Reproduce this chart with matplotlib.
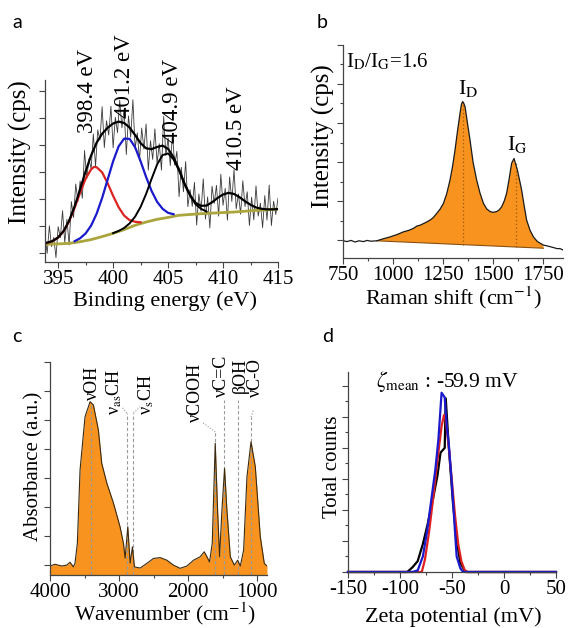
import numpy as np
import matplotlib
matplotlib.use("Agg")
import matplotlib.pyplot as plt
from matplotlib.ticker import MultipleLocator

plt.rcParams['font.family'] = ['Liberation Serif', 'DejaVu Serif']
plt.rcParams['mathtext.fontset'] = 'stix'
plt.rcParams['axes.unicode_minus'] = False

ORANGE = '#f7931e'
AXCOL = '#444444'

# ---------------- a: XPS N1s ----------------
# raw spectrum, 0.2 eV channel steps from 393.8 to 415.0 eV
xps_energy = np.linspace(393.8, 415.0, 107)
xps_counts = [0.66, -0.01, 1.01, 0.24, 0.58, -0.17, 0.98, 0.57, 1.57, 0.39,
              1.25, 0.30, 1.91, 1.32, 2.56, 1.91, 2.67, 2.03, 3.80, 2.75,
              3.49, 3.12, 4.41, 3.20, 4.56, 4.19, 5.42, 3.91, 4.90, 4.37,
              5.44, 3.90, 5.03, 4.46, 5.66, 4.64, 5.32, 3.65, 5.08, 4.29,
              5.68, 3.87, 4.45, 3.43, 4.63, 3.85, 4.78, 3.07, 4.16, 3.47,
              4.60, 3.33, 4.05, 3.07, 5.06, 3.61, 4.26, 3.24, 4.41, 3.26,
              3.77, 2.09, 3.18, 2.27, 3.39, 1.72, 2.35, 1.73, 2.62, 1.04,
              2.19, 1.55, 2.75, 1.26, 2.08, 0.93, 2.48, 1.84, 2.51, 1.37,
              2.92, 1.77, 2.40, 1.22, 2.82, 1.91, 3.09, 1.64, 2.19, 1.44,
              2.68, 1.72, 2.27, 1.02, 2.07, 1.23, 2.49, 1.37, 1.85, 0.94,
              2.13, 1.22, 2.52, 1.02, 1.92, 1.43, 2.03]

bg_energy = [393.8, 395, 396, 397, 398, 399, 400, 401, 402, 403, 404, 405,
             406, 407, 408, 409, 410, 411, 412, 413, 414, 415]
bg_counts = [0.33, 0.34, 0.36, 0.42, 0.50, 0.61, 0.73, 0.87, 1.03, 1.15, 1.25,
             1.32, 1.40, 1.43, 1.46, 1.48, 1.50, 1.52, 1.55, 1.58, 1.60, 1.63]

red_energy = [393.8, 394.5, 395.0, 395.5, 396.0, 396.5, 397.0, 397.5, 398.0,
              398.25, 398.5, 399.0, 399.5, 400.0, 400.5, 401.0, 401.5, 402.0, 402.5]
red_counts = [0.36, 0.44, 0.58, 0.81, 1.18, 1.68, 2.24, 2.76, 3.10,
              3.19, 3.18, 2.99, 2.59, 2.12, 1.70, 1.39, 1.22, 1.16, 1.14]

blue_energy = [396.5, 397.0, 397.5, 398.0, 398.5, 399.0, 399.5, 400.0, 400.5,
               401.0, 401.5, 402.0, 402.5, 403.0, 403.5, 404.0, 404.5, 405.0, 405.5]
blue_counts = [0.44, 0.55, 0.73, 1.02, 1.46, 2.04, 2.72, 3.40, 3.95,
               4.24, 4.23, 3.92, 3.40, 2.82, 2.30, 1.90, 1.64, 1.49, 1.44]

blk_energy = [400.0, 400.5, 401.0, 401.5, 402.0, 402.5, 403.0, 403.5, 404.0,
              404.5, 405.0, 405.5, 406.0, 406.5, 407.0, 407.5, 408.0, 408.5]
blk_counts = [0.74, 0.82, 0.93, 1.10, 1.35, 1.71, 2.19, 2.75, 3.28,
              3.63, 3.69, 3.47, 3.06, 2.55, 2.13, 1.81, 1.64, 1.54]

env_energy = [393.8, 394.5, 395.0, 395.5, 396.0, 396.5, 397.0, 397.5, 398.0,
              398.5, 399.0, 399.5, 400.0, 400.5, 401.0, 401.5, 402.0, 402.5,
              403.0, 403.5, 404.0, 404.5, 405.0, 405.5, 406.0, 406.5, 407.0,
              407.5, 408.0, 408.5, 409.0, 409.5, 410.0, 410.5, 411.0, 411.5,
              412.0, 412.5, 413.0, 413.5, 414.0, 414.5, 415.0]
env_counts = [0.36, 0.45, 0.58, 0.82, 1.20, 1.73, 2.37, 3.03, 3.62,
              4.09, 4.42, 4.64, 4.80, 4.87, 4.82, 4.65, 4.37, 4.07,
              3.88, 3.85, 3.93, 3.98, 3.86, 3.55, 3.09, 2.57, 2.15,
              1.86, 1.75, 1.76, 1.88, 2.04, 2.17, 2.23, 2.19, 2.07,
              1.92, 1.79, 1.69, 1.64, 1.62, 1.62, 1.63]

xps_peaks = ['398.4 eV', '401.2 eV', '404.9 eV', '410.5 eV']

# ---------------- b: Raman ----------------
raman_shift = [752, 770, 790, 810, 830, 852, 870, 890, 918, 950, 985, 1020, 1052,
               1080, 1102, 1120, 1135, 1160, 1185, 1200, 1218, 1235, 1252, 1268,
               1285, 1298, 1310, 1322, 1335, 1342, 1348, 1354, 1360, 1372, 1385,
               1400, 1418, 1435, 1452, 1468, 1485, 1500, 1518, 1530, 1543, 1556,
               1568, 1580, 1593, 1605, 1613, 1622, 1632, 1643, 1655, 1668, 1685,
               1702, 1720, 1735, 1752, 1770, 1785, 1800, 1820, 1835, 1852]
raman_int = [-0.02, -0.04, -0.01, -0.05, -0.02, -0.04, -0.01, -0.03, -0.02, 0.03,
             0.08, 0.14, 0.21, 0.25, 0.30, 0.36, 0.38, 0.44, 0.51, 0.57, 0.68,
             0.79, 0.94, 1.18, 1.54, 1.90, 2.31, 2.78, 3.25, 3.48, 3.55, 3.50,
             3.42, 3.00, 2.56, 2.00, 1.54, 1.20, 0.94, 0.80, 0.73, 0.71, 0.73,
             0.77, 0.85, 1.00, 1.20, 1.55, 1.97, 2.09, 1.95, 1.79, 1.55, 1.28,
             0.90, 0.51, 0.25, 0.08, -0.03, -0.08, -0.13, -0.15, -0.17, -0.19,
             -0.22, -0.22, -0.26]
raman_base_x = [918, 1752]
raman_base_y = [-0.02, -0.21]
raman_bands = [1348, 1613]
raman_band_top = [3.55, 2.02]

# ---------------- c: FTIR ----------------
ir_wn = [4000, 3928, 3830, 3758, 3710, 3662, 3638, 3604, 3565, 3493, 3420, 3372,
         3300, 3251, 3178, 3082, 2986, 2937, 2913, 2874, 2840, 2807, 2778, 2696,
         2599, 2503, 2406, 2309, 2213, 2116, 2019, 1923, 1826, 1768, 1729, 1691,
         1652, 1609, 1575, 1546, 1512, 1474, 1440, 1391, 1333, 1285, 1246, 1198,
         1150, 1091, 1029, 957, 899, 860]
ir_abs = [-0.03, 0.03, -0.03, 0.00, 0.10, -0.06, 0.07, 0.75, 3.28, 5.11, 5.63, 5.52,
          4.66, 3.51, 2.83, 2.14, 1.32, 0.75, 0.24, 1.32, 0.07, 0.63, -0.06, -0.10,
          0.06, 0.23, 0.26, 0.17, 0.00, -0.11, -0.03, 0.17, 0.29, 0.46, 0.29, 0.11,
          0.75, 4.20, 1.90, 0.29, 1.90, 3.33, 1.90, 0.29, 0.00, 0.17, -0.03, 0.52,
          3.04, 4.25, 3.39, 0.98, 0.06, -0.03]
ir_bands = [3410, 2889, 2793, 1609, 1478, 1275, 1091]
ir_labels = [r'νOH', r'ν$_{\rm as}$CH', r'ν$_{\rm s}$CH', r'νCOOH',
             r'νC=C', r'βOH', r'νC-O']

# ---------------- d: zeta potential ----------------
zeta_k = [-150, -93, -88, -83, -78, -73, -68, -64, -61, -57, -56, -53, -49, -45,
          -42, -38, -35, 50]
cnt_k = [0, 0, 0.15, 0.35, 0.9, 1.6, 2.4, 3.1, 3.85, 4.0, 5.6, 4.0, 2.2, 0.9,
         0.3, 0.05, 0, 0]
zeta_r = [-150, -79, -76, -72, -68, -64, -60, -57.7, -56, -53, -50, -47, -44,
          -41, -38, -36, 50]
cnt_r = [0, 0, 0.4, 1.3, 2.4, 3.6, 4.7, 5.06, 4.9, 4.0, 2.9, 1.8, 0.9, 0.35,
         0.08, 0, 0]
zeta_b = [-150, -88, -83, -78, -74, -70, -66, -63, -60, -57, -55, -53, -50,
          -47.5, -45.5, -42, -40, -38, 50]
cnt_b = [0, 0, 0.05, 0.5, 1.3, 2.3, 3.3, 4.3, 5.78, 5.63, 4.7, 4.1, 2.8, 1.5,
         0.5, 0.12, 0.03, 0, 0]
zeta_mean = -59.9


def style_axes(ax):
    for s in ['top', 'right']:
        ax.spines[s].set_visible(False)
    for s in ['left', 'bottom']:
        ax.spines[s].set_color(AXCOL)
        ax.spines[s].set_linewidth(0.9)
    ax.tick_params(axis='both', which='both', colors=AXCOL, labelcolor='black',
                   direction='out', width=0.8)
    ax.tick_params(axis='both', which='major', length=4, labelsize=15, pad=1.5)
    ax.tick_params(axis='both', which='minor', length=2.5)
    ax.tick_params(axis='y', labelleft=False)


fig = plt.figure(figsize=(5.7, 6.28), dpi=100)

# a
ax = fig.add_axes([0.0789, 0.5828, 0.4088, 0.2898])
ax.plot(xps_energy, xps_counts, color='#3a3a3a', lw=0.6)
ax.plot(bg_energy, bg_counts, color='#aaa53c', lw=2.0)
ax.plot(red_energy, red_counts, color='#dd2222', lw=1.6)
ax.plot(blue_energy, blue_counts, color='#1a1acc', lw=1.6)
ax.plot(blk_energy, blk_counts, color='black', lw=1.4)
ax.plot(env_energy, env_counts, color='black', lw=1.6)
ax.set_xlim(393.8, 415)
ax.set_ylim(-0.33, 6.41)
ax.xaxis.set_major_locator(MultipleLocator(5))
ax.xaxis.set_minor_locator(MultipleLocator(2.5))
ax.yaxis.set_major_locator(MultipleLocator(1))
style_axes(ax)
for lab, (x, y) in zip(xps_peaks, [(397.64, 4.44), (401.0, 5.0),
                                   (405.36, 4.07), (411.18, 3.07)]):
    ax.text(x, y, lab, rotation=90, ha='center', va='bottom', fontsize=16.5,
            clip_on=False)
ax.set_xlabel('Binding energy (eV)', fontsize=16)
ax.set_ylabel('Intensity (cps)', fontsize=18)
ax.xaxis.set_label_coords(0.515, -0.16)
ax.yaxis.set_label_coords(-0.056, 0.604)

# b
ax = fig.add_axes([0.6018, 0.5892, 0.386, 0.3392])
rs = np.array(raman_shift)
ri = np.array(raman_int)
m = (rs >= raman_base_x[0]) & (rs <= raman_base_x[1])
ax.fill(np.concatenate([rs[m], raman_base_x[::-1]]),
        np.concatenate([ri[m], raman_base_y[::-1]]),
        color=ORANGE, lw=0)
ax.plot(raman_base_x, raman_base_y, color='#8a5010', lw=0.8)
ax.vlines(raman_bands, [-0.12, -0.17], raman_band_top, colors='#9a5a10',
          linestyles=(0, (1, 2)), lw=0.9)
ax.plot(raman_shift, raman_int, color='#1a1a1a', lw=0.9)
ax.set_xlim(750, 1850)
ax.set_ylim(-0.46, 5.0)
ax.xaxis.set_major_locator(MultipleLocator(250))
ax.xaxis.set_minor_locator(MultipleLocator(125))
ax.yaxis.set_major_locator(MultipleLocator(1))
ax.yaxis.set_minor_locator(MultipleLocator(0.5))
style_axes(ax)
ax.text(765, 4.42, r'I$_{\rm D}$/I$_{\rm G}$=1.6', fontsize=15, va='baseline')
ax.text(1325, 3.75, r'I$_{\rm D}$', fontsize=16, va='baseline')
ax.text(1570, 2.31, r'I$_{\rm G}$', fontsize=16, va='baseline')
ax.set_xlabel('Raman shift (cm$^{-1}$)', fontsize=16)
ax.set_ylabel('Intensity (cps)', fontsize=18)
ax.xaxis.set_label_coords(0.5, -0.125)
ax.yaxis.set_label_coords(-0.036, 0.573)

# c
ax = fig.add_axes([0.0877, 0.0844, 0.3807, 0.3392])
ax.set_xlim(4000, 860)
ax.set_ylim(-0.34, 7.0)
ax.fill_between(ir_wn, ir_abs, ax.get_ylim()[0], color=ORANGE, lw=0)
tops = [5.63, 5.24, 5.24, 4.59, 5.69, 5.69, 5.1]
ax.vlines(ir_bands, ax.get_ylim()[0], tops, colors='#9a9a9a',
          linestyles=(0, (3, 2)), lw=0.8)
for (x0, y0), (x1, y1) in [((2889, 5.24), (2960, 5.45)),
                           ((2793, 5.24), (2696, 5.45)),
                           ((1609, 4.59), (1783, 4.90)),
                           ((1091, 5.10), (1058, 5.34))]:
    ax.plot([x0, x1], [y0, y1], color='#9a9a9a', ls=(0, (1, 1.5)), lw=0.8)
ax.plot(ir_wn, ir_abs, color='#3a2a10', lw=0.8)
for lab, (x, y) in zip(ir_labels, [(3391, 5.69), (3072, 5.17), (2609, 5.17),
                                   (1899, 4.93), (1520, 5.79), (1250, 5.93),
                                   (1020, 5.79)]):
    ax.text(x, y, lab, rotation=90, ha='center', va='bottom', fontsize=13,
            clip_on=False)
ax.xaxis.set_major_locator(MultipleLocator(1000))
ax.xaxis.set_minor_locator(MultipleLocator(500))
ax.yaxis.set_major_locator(MultipleLocator(1))
style_axes(ax)
ax.set_xlabel('Wavenumber (cm$^{-1}$)', fontsize=15.5)
ax.set_ylabel('Absorbance (a.u.)', fontsize=15)
ax.xaxis.set_label_coords(0.53, -0.118)
ax.yaxis.set_label_coords(-0.032, 0.512)

# d
ax = fig.add_axes([0.6105, 0.0892, 0.3649, 0.3185])
ax.plot(zeta_k, cnt_k, color='black', lw=1.6, clip_on=False)
ax.plot(zeta_r, cnt_r, color='#e02020', lw=1.6, clip_on=False)
ax.plot(zeta_b, cnt_b, color='#1a1acc', lw=1.6, clip_on=False)
ax.set_xlim(-150, 50)
ax.set_ylim(0, 6.45)
ax.xaxis.set_major_locator(MultipleLocator(50))
ax.xaxis.set_minor_locator(MultipleLocator(25))
ax.yaxis.set_major_locator(MultipleLocator(1))
ax.yaxis.set_minor_locator(MultipleLocator(0.5))
style_axes(ax)
ax.text(-123, 5.97, r'$\zeta_{\rm mean}$ : %.1f mV' % zeta_mean, fontsize=15.5,
        va='baseline')
ax.set_xlabel('Zeta potential (mV)', fontsize=16)
ax.set_ylabel('Total counts', fontsize=15)
ax.xaxis.set_label_coords(0.505, -0.175)
ax.yaxis.set_label_coords(-0.03, 0.525)

# panel letters
for letter, (px, py) in zip('abcd', [(12, 28), (317, 28), (12, 342), (322, 342)]):
    fig.text(px / 570, 1 - py / 628, letter, fontsize=14, family='Lato',
             va='baseline')

fig.savefig('out.png', dpi=100)
